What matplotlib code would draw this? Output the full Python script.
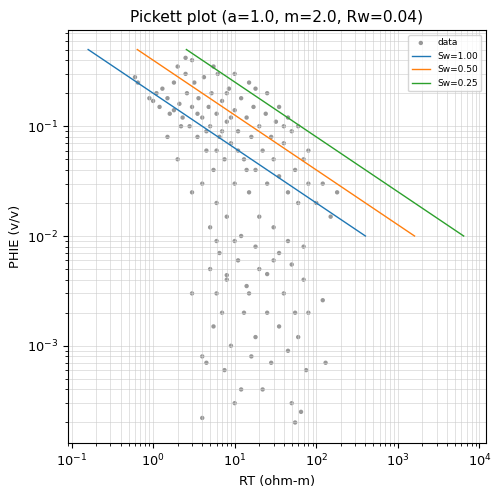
import numpy as np
import matplotlib
matplotlib.use("Agg")
import matplotlib.pyplot as plt
plt.rcParams["font.size"] = 9.3

a, m, n, Rw = 1.0, 2.0, 2.0, 0.04
sw_values = [1.00, 0.50, 0.25]
sw_colors = ["#1f77b4", "#ff7f0e", "#2ca02c"]

rt = [0.6,0.65,0.9,1.0,1.1,1.2,1.3,1.5,1.6,1.8,2.0,2.1,2.3,2.5,2.6,2.8,3.0,3.2,3.5,3.6,4.0,4.2,4.5,4.8,5.0,5.2,5.5,6.0,6.2,6.5,7.0,7.5,8.0,8.5,9.0,10,10,11,12,13,14,15,16,17,18,20,22,24,25,28,30,32,35,40,45,50,55,60,70,80,100,120,150,180,3.0,4,2,1.5,6,8,5,12,20,30,40,25,15,10,3,2.5,5.5,18,35,45,60,80,3.5,7,9,11,14,6,2.2,1.8,4.5,8,
      3,4,4.5,5,5.5,6,6.5,7,7.5,8,9,10,11,12,13,15,16,18,20,22,25,28,30,35,40,45,50,55,60,65,70,75,80,120,130,4,8,14,25,35,45,18,10,6,50,70,55]
phie = [0.28,0.25,0.18,0.17,0.2,0.15,0.22,0.18,0.13,0.25,0.35,0.16,0.12,0.3,0.2,0.1,0.15,0.25,0.08,0.18,0.12,0.28,0.06,0.15,0.1,0.2,0.04,0.13,0.3,0.08,0.17,0.05,0.11,0.22,0.07,0.14,0.03,0.09,0.18,0.05,0.12,0.025,0.08,0.15,0.04,0.1,0.06,0.13,0.03,0.08,0.05,0.11,0.035,0.07,0.025,0.09,0.04,0.02,0.05,0.03,0.02,0.03,0.015,0.025,0.025,0.03,0.05,0.08,0.02,0.015,0.012,0.01,0.015,0.012,0.1,0.2,0.25,0.3,0.4,0.42,0.35,0.22,0.15,0.12,0.1,0.06,0.13,0.09,0.12,0.06,0.04,0.06,0.1,0.14,0.09,0.2,
        0.003,0.0008,0.0007,0.005,0.0015,0.003,0.007,0.002,0.0006,0.004,0.001,0.0003,0.006,0.0004,0.002,0.003,0.0008,0.0012,0.005,0.0004,0.002,0.0007,0.006,0.0015,0.003,0.0009,0.0003,0.002,0.0012,0.00025,0.004,0.0006,0.002,0.0026,0.0007,0.00022,0.0044,0.0035,0.0045,0.007,0.009,0.008,0.009,0.009,0.0055,0.008,0.0002]

fig, ax = plt.subplots(figsize=(5.02, 4.95), dpi=100)
ax.scatter(rt, phie, s=10, c="black", alpha=0.4, edgecolors="none", label="data")
phi_line = np.logspace(np.log10(0.5), np.log10(0.01), 50)
for sw, col in zip(sw_values, sw_colors):
    rt_line = a * Rw / (sw ** n * phi_line ** m)
    ax.plot(rt_line, phi_line, color=col, lw=1, label=f"Sw={sw:.2f}")
ax.set_xscale("log"); ax.set_yscale("log")
ax.set_xlim(0.09, 1.2e4); ax.set_ylim(1.3e-4, 0.75)
ax.grid(True, which="both", color="#cccccc", lw=0.5, alpha=0.8)
ax.set_xlabel("RT (ohm-m)"); ax.set_ylabel("PHIE (v/v)")
ax.set_title(f"Pickett plot (a={a}, m={m}, Rw={Rw})", fontsize=11.2)
ax.legend(fontsize=6.5, loc="upper right")
fig.subplots_adjust(left=0.135, right=0.968, top=0.939, bottom=0.105)
fig.savefig("out.png", dpi=100)
